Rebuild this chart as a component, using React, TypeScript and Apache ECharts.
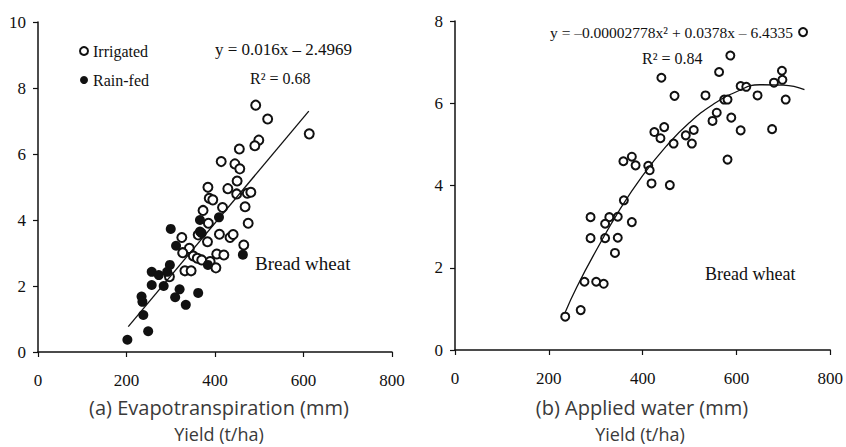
import React, { useEffect, useRef } from "react";
import * as echarts from "echarts";

// (a) Evapotranspiration (mm) vs Yield (t/ha)
const irrigatedET: [number, number][] = [
  [492, 7.48], [519, 7.06], [613, 6.61], [499, 6.42], [490, 6.25], [455, 6.15],
  [414, 5.77], [445, 5.7], [456, 5.55], [450, 5.18], [384, 4.99], [429, 4.95],
  [449, 4.79], [473, 4.81], [481, 4.84], [387, 4.66], [395, 4.61], [417, 4.38],
  [468, 4.4], [373, 4.29], [385, 3.9], [475, 3.9], [362, 3.55], [383, 3.34],
  [410, 3.57], [434, 3.47], [441, 3.56], [325, 3.47], [342, 3.14], [327, 3.01],
  [351, 2.91], [465, 3.24], [404, 2.97], [420, 2.94], [360, 2.84], [370, 2.79],
  [389, 2.74], [402, 2.55], [332, 2.46], [346, 2.46], [297, 2.28],
];
const rainfedET: [number, number][] = [
  [202, 0.37], [249, 0.63], [238, 1.12], [234, 1.68], [236, 1.52], [257, 2.03],
  [257, 2.43], [273, 2.33], [284, 2.0], [298, 2.64], [292, 2.43], [300, 3.73],
  [310, 1.66], [320, 1.9], [312, 3.22], [334, 1.43], [362, 1.79], [366, 4.0],
  [366, 3.65], [370, 3.6], [409, 4.08], [384, 2.64], [463, 2.95],
];
const fitLineET: [number, number][] = [[204, 0.77], [612, 7.3]];

// (b) Applied water (mm) vs Yield (t/ha)
const appliedWater: [number, number][] = [
  [742, 7.73], [587, 7.16], [563, 6.76], [697, 6.79], [680, 6.5], [698, 6.57],
  [440, 6.62], [468, 6.18], [534, 6.19], [645, 6.19], [609, 6.42], [621, 6.4],
  [574, 6.09], [581, 6.09], [705, 6.09], [558, 5.77], [549, 5.57], [589, 5.65],
  [609, 5.34], [676, 5.37], [425, 5.3], [446, 5.42], [438, 5.15], [492, 5.22],
  [509, 5.35], [505, 5.02], [466, 5.02], [581, 4.63], [359, 4.59], [377, 4.7],
  [385, 4.49], [412, 4.48], [415, 4.37], [419, 4.05], [458, 4.01], [360, 3.64],
  [289, 3.23], [329, 3.23], [347, 3.24], [320, 3.07], [377, 3.11], [289, 2.72],
  [320, 2.72], [347, 2.73], [341, 2.36], [276, 1.66], [301, 1.66], [317, 1.61],
  [268, 0.97], [235, 0.81],
];
const fitCurveAW: [number, number][] = [
  [235, 0.92], [260, 1.54], [300, 2.4], [350, 3.39], [400, 4.24], [450, 4.95],
  [500, 5.53], [550, 5.97], [600, 6.28], [650, 6.45], [700, 6.44], [745, 6.33],
];

const xRange = { min: 0, max: 800, interval: 200 };
const yRangeA = { min: 0, max: 10, interval: 2 };
const yRangeB = { min: 0, max: 8, interval: 2 };

const SERIF = "Liberation Serif";
const SANS = "Open Sans";
const INK = "#111";

const axisCommon = {
  type: "value" as const,
  axisLine: { show: true, onZero: false, lineStyle: { color: INK, width: 1.5 } },
  axisTick: { show: true, length: 5, lineStyle: { color: INK, width: 1.2 } },
  splitLine: { show: false },
};

const tickLabel = (margin: number) => ({
  margin,
  fontSize: 17,
  fontFamily: SERIF,
  color: INK,
});

export default function App() {
  const ref = useRef<HTMLDivElement>(null);
  useEffect(() => {
    if (!ref.current) return;
    const chart = echarts.init(ref.current, undefined, { renderer: "svg" });
    const xAxisDef = (gridIndex: number) => ({
      ...axisCommon,
      gridIndex,
      ...xRange,
      axisLabel: tickLabel(20),
    });
    const yAxisDef = (gridIndex: number, r: any) => ({
      ...axisCommon,
      gridIndex,
      ...r,
      axisLabel: tickLabel(12),
    });
    const txt = (text: string, x: number, y: number, size: number, align = "left", font = SERIF, color = INK) => ({
      type: "text",
      x,
      y,
      silent: true,
      style: {
        text,
        fill: color,
        fontSize: size,
        fontFamily: font,
        textAlign: align,
        textVerticalAlign: "middle",
      },
    });
    chart.setOption({
      animation: false,
      textStyle: { fontFamily: SERIF },
      grid: [
        { left: 38, top: 22, width: 354, height: 330 },
        { left: 455, top: 21, width: 377, height: 329 },
      ],
      xAxis: [xAxisDef(0), xAxisDef(1)],
      yAxis: [yAxisDef(0, yRangeA), yAxisDef(1, yRangeB)],
      legend: {
        data: ["Irrigated", "Rain-fed"],
        orient: "vertical",
        left: 79,
        top: 43,
        padding: 0,
        itemWidth: 8,
        itemHeight: 8,
        itemGap: 13,
        textStyle: { fontFamily: SERIF, fontSize: 16, color: INK },
      },
      series: [
        {
          name: "Irrigated",
          type: "scatter",
          xAxisIndex: 0,
          yAxisIndex: 0,
          symbol: "emptyCircle",
          symbolSize: 9,
          itemStyle: { color: INK, borderColor: INK, borderWidth: 1.5, opacity: 1 },
          data: irrigatedET,
        },
        {
          name: "Rain-fed",
          type: "scatter",
          xAxisIndex: 0,
          yAxisIndex: 0,
          symbol: "circle",
          symbolSize: 10,
          itemStyle: { color: INK, opacity: 1 },
          data: rainfedET,
        },
        {
          name: "fitA",
          type: "line",
          xAxisIndex: 0,
          yAxisIndex: 0,
          symbol: "none",
          lineStyle: { color: INK, width: 1.3 },
          data: fitLineET,
        },
        {
          name: "Applied",
          type: "scatter",
          xAxisIndex: 1,
          yAxisIndex: 1,
          symbol: "emptyCircle",
          symbolSize: 8,
          itemStyle: { color: INK, borderColor: INK, borderWidth: 1.5, opacity: 1 },
          data: appliedWater,
        },
        {
          name: "fitB",
          type: "line",
          xAxisIndex: 1,
          yAxisIndex: 1,
          symbol: "none",
          smooth: true,
          lineStyle: { color: INK, width: 1.3 },
          data: fitCurveAW,
        },
      ],
      graphic: [
        txt("y = 0.016x \u2013 2.4969", 215, 49, 17),
        txt("R\u00B2 = 0.68", 250, 78, 16),
        txt("Bread wheat", 255, 263, 19),
        txt("y = \u20130.00002778x\u00B2 + 0.0378x \u2013 6.4335", 550, 32, 15.5),
        txt("R\u00B2 = 0.84", 642, 58, 16),
        txt("Bread wheat", 705, 274, 18),
        txt("(a) Evapotranspiration (mm)", 219, 407, 20, "center", SANS, "#3a3a3a"),
        txt("Yield (t/ha)", 219, 434, 18, "center", SANS, "#3a3a3a"),
        txt("(b) Applied water (mm)", 642, 407, 20, "center", SANS, "#3a3a3a"),
        txt("Yield (t/ha)", 640, 434, 18, "center", SANS, "#3a3a3a"),
      ],
    });
    return () => chart.dispose();
  }, []);
  return (
    <div
      ref={ref}
      style={{ position: "fixed", left: 0, top: 0, width: 846, height: 447, background: "#fff" }}
    />
  );
}
